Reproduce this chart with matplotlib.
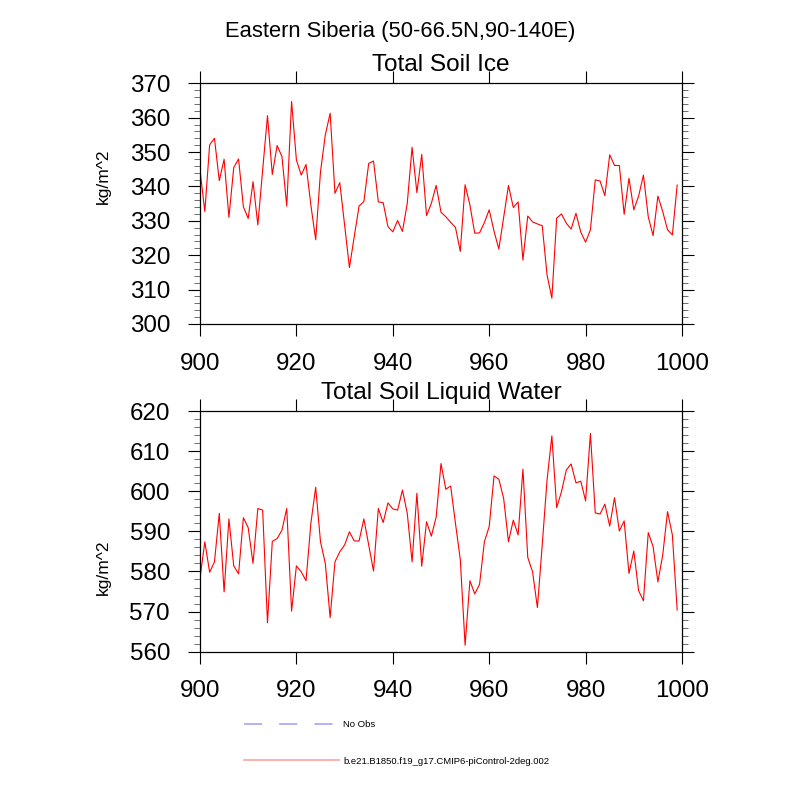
import numpy as np
import matplotlib
matplotlib.use("Agg")
import matplotlib.pyplot as plt
from matplotlib.lines import Line2D
from matplotlib.ticker import MultipleLocator
from matplotlib import font_manager

plt.rcParams['font.family'] = ['Liberation Sans', 'DejaVu Sans']

years = list(range(900, 1000))

soil_ice = [
    344.8, 332.7, 352.1, 354.0, 341.7, 347.9, 331.0, 345.5, 348.0, 334.1,
    330.7, 341.4, 328.8, 344.8, 360.6, 343.5, 351.9, 348.7, 334.3, 364.7,
    347.7, 343.3, 346.4, 334.6, 324.5, 344.3, 355.0, 361.3, 338.0, 341.1,
    328.8, 316.4, 325.4, 334.3, 335.6, 346.7, 347.4, 335.5, 335.3, 328.3,
    326.8, 330.1, 326.9, 335.1, 351.4, 338.2, 349.3, 331.5, 335.1, 340.3,
    332.5, 331.2, 329.6, 328.1, 321.1, 340.5, 334.6, 326.4, 326.5, 329.5,
    333.2, 327.0, 321.8, 331.0, 340.3, 333.9, 335.5, 318.6, 331.4, 329.7,
    329.1, 328.6, 314.3, 307.5, 330.8, 332.0, 329.3, 327.6, 332.2, 326.7,
    323.8, 327.4, 341.9, 341.6, 337.3, 349.2, 346.1, 346.1, 331.9, 342.4,
    333.2, 337.2, 343.3, 331.2, 325.7, 337.2, 332.7, 327.4, 325.9, 340.4,
]

soil_liq = [
    578.3, 587.4, 579.8, 582.4, 594.5, 574.9, 593.1, 581.4, 579.4, 593.4,
    590.9, 582.0, 595.7, 595.3, 567.2, 587.5, 588.2, 590.3, 595.7, 570.1,
    581.4, 579.9, 577.7, 592.0, 601.0, 587.4, 582.0, 568.5, 582.4, 584.9,
    586.6, 589.9, 587.6, 587.6, 593.1, 586.6, 580.1, 595.7, 592.2, 597.1,
    595.6, 595.3, 600.3, 594.5, 582.4, 599.5, 581.3, 592.4, 588.8, 593.6,
    606.9, 600.5, 601.3, 592.0, 583.0, 561.6, 577.7, 574.4, 576.8, 587.4,
    591.2, 603.8, 603.0, 598.2, 587.4, 592.8, 589.1, 605.5, 583.5, 579.9,
    571.0, 586.6, 602.8, 613.8, 595.9, 599.9, 605.3, 606.8, 602.1, 602.5,
    597.6, 614.4, 594.6, 594.3, 596.8, 591.3, 598.4, 590.1, 592.6, 579.5,
    585.1, 575.2, 572.7, 589.7, 586.2, 577.4, 584.1, 594.9, 589.1, 570.4,
]

suptitle = "Eastern Siberia (50-66.5N,90-140E)"
titles = ["Total Soil Ice", "Total Soil Liquid Water"]
ylabel = "kg/m^2"
xticks = [900, 920, 940, 960, 980, 1000]
yticks_ice = [300, 310, 320, 330, 340, 350, 360, 370]
yticks_liq = [560, 570, 580, 590, 600, 610, 620]
legend_labels = ["No Obs", "b.e21.B1850.f19_g17.CMIP6-piControl-2deg.002"]

installed = {f.name for f in font_manager.fontManager.ttflist}
if 'Liberation Sans Narrow' in installed:
    label_family = ['Liberation Sans Narrow', 'DejaVu Sans']
    label_size = 14.5
else:
    label_family = ['Liberation Sans', 'DejaVu Sans']
    label_size = 12.5

fig = plt.figure(figsize=(8, 8), dpi=100)
W, H = 800.0, 800.0
left = 200 / W
width = 482 / W
height = 240.7 / H
ax1 = fig.add_axes([left, 1 - 324 / H, width, height])
ax2 = fig.add_axes([left, 1 - 651.7 / H, width, height])

def style(ax, data, yticks, title, label_y):
    ax.plot(years, data, color='red', lw=0.8)
    ax.set_xlim(900, 1000)
    ax.set_ylim(yticks[0], yticks[-1])
    ax.set_xticks(xticks)
    ax.set_yticks(yticks)
    ax.yaxis.set_minor_locator(MultipleLocator(2))
    ax.tick_params(axis='both', which='major', direction='out', length=8.6,
                   width=0.8, labelsize=17.4, top=True, right=True,
                   color='black')
    ax.tick_params(axis='y', which='major', pad=13)
    ax.tick_params(axis='x', which='major', pad=12)
    ax.tick_params(axis='y', which='minor', direction='out', length=4.3,
                   width=0.6, left=True, right=True, color='#555555')
    ax.tick_params(axis='x', which='minor', bottom=False, top=False)
    for s in ax.spines.values():
        s.set_linewidth(0.9)
    ax.set_ylabel(ylabel, fontsize=label_size, family=label_family)
    ax.yaxis.set_label_coords(-0.185, label_y)
    ax.text(0.5, 1.051, title, transform=ax.transAxes, ha='center',
            va='baseline', fontsize=17.6)

style(ax1, soil_ice, yticks_ice, titles[0], 0.612)
style(ax2, soil_liq, yticks_liq, titles[1], 0.35)

fig.text(0.5, 1 - 36.7 / H, suptitle, ha='center', va='baseline', fontsize=15.8)

handles = [
    Line2D([], [], color='#aaaaff', lw=1.3, linestyle=(0, (10, 9.5))),
    Line2D([], [], color='#ffaaaa', lw=1.3),
]
fig.legend(handles, legend_labels, loc='center left',
           bbox_to_anchor=(244 / W, 1 - 743 / H), frameon=False,
           fontsize=6.8, handlelength=10.1, handletextpad=0.4,
           labelspacing=2.9, borderpad=0, borderaxespad=0)

fig.savefig("out.png", dpi=100)
